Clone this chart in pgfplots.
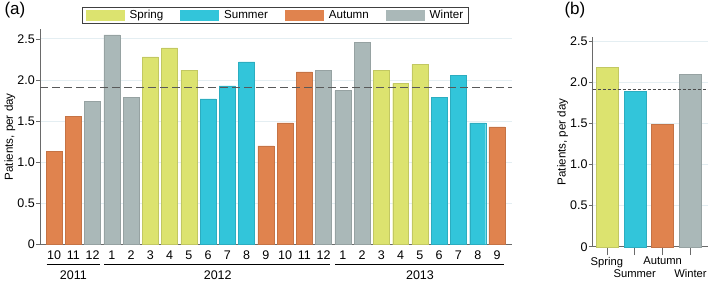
\documentclass[border=0pt]{standalone}
\usepackage{fontspec}
\setmainfont{Liberation Sans}
\usepackage{pgfplots}
\pgfplotsset{compat=1.18}

\definecolor{spring}{HTML}{DCE36F}
\definecolor{summer}{HTML}{32C5DA}
\definecolor{autumn}{HTML}{E0834E}
\definecolor{winter}{HTML}{AAB8B8}
\definecolor{gridc}{HTML}{E4EEF2}
\definecolor{axisc}{HTML}{6A6A6A}

\newcommand\labelfont{\fontsize{11.6}{13.8}\selectfont}
\newcommand\tickfont{\fontsize{12.5}{14}\selectfont}

\pgfplotsset{
  season/.style={ybar, bar shift=0pt, fill=#1, draw=#1!88!black, line width=0.4pt,
    legend image code/.code={\fill[#1] (0pt,-4.8pt) rectangle (38pt,4.8pt);}},
  panel/.style={
    scale only axis, anchor=south west, clip=false,
    axis lines=left, axis line style={-, axisc, line width=0.8pt},
    ymin=0,
    ytick={0,0.5,1,1.5,2,2.5},
    yticklabels={0,0.5,1.0,1.5,2.0,2.5},
    ymajorgrids, major grid style={gridc, line width=0.8pt},
    tick align=outside, major tick length=4pt,
    tick style={axisc, line width=0.6pt},
    font=\labelfont,
    ticklabel style={font=\tickfont},
    yticklabel style={inner xsep=1pt},
    ylabel={Patients, per day},
    ylabel style={anchor=center, font=\labelfont},
  },
}

\begin{document}
\begin{tikzpicture}
\useasboundingbox (0,0) rectangle (708pt,281pt);

% (a) monthly average, Oct 2011 - Sep 2013
\begin{axis}[panel,
  at={(40pt,36.5pt)}, width=472pt, height=215.5pt,
  xmin=-0.73, xmax=23.78, ymax=2.62,
  xtick={0,...,23},
  xticklabels={10,11,12,1,2,3,4,5,6,7,8,9,10,11,12,1,2,3,4,5,6,7,8,9},
  x tick style={draw=none},
  xticklabel style={yshift=1pt},
  ylabel style={at={(axis description cs:-0.0636,0.5)}},
  legend style={at={(0.499,1.065)}, anchor=center, legend columns=4,
    draw=black!75, line width=0.6pt, font=\labelfont,
    inner xsep=3pt, inner ysep=1pt,
    /tikz/every even column/.append style={column sep=15pt},
    /tikz/every odd column/.append style={column sep=3.5pt}},
]
\addplot[season=spring, bar width=0.83] coordinates
  {(5,2.28) (6,2.39) (7,2.12) (17,2.12) (18,1.96) (19,2.19)};
\addplot[season=summer, bar width=0.83] coordinates
  {(8,1.77) (9,1.93) (10,2.22) (20,1.79) (21,2.06) (22,1.48)};
\addplot[season=autumn, bar width=0.83] coordinates
  {(0,1.13) (1,1.56) (11,1.20) (12,1.48) (13,2.10) (23,1.43)};
\addplot[season=winter, bar width=0.83] coordinates
  {(2,1.74) (3,2.55) (4,1.79) (14,2.12) (15,1.87) (16,2.46)};
\legend{Spring,Summer,Autumn,Winter}
% overall mean
\addplot[forget plot, black!65, line width=1.4pt, dash pattern=on 8pt off 4pt]
  coordinates {(-0.73,1.91) (23.78,1.91)};
% year brackets
\draw[line width=1.3pt] ([yshift=-20pt]axis cs:-0.38,0) -- ([yshift=-20pt]axis cs:2.39,0);
\draw[line width=1.3pt] ([yshift=-20pt]axis cs:2.6,0) -- ([yshift=-20pt]axis cs:14.33,0);
\draw[line width=1.3pt] ([yshift=-20pt]axis cs:14.59,0) -- ([yshift=-20pt]axis cs:23.36,0);
\node[anchor=base, font=\tickfont] at ([yshift=-35.3pt]axis cs:1,0) {2011};
\node[anchor=base, font=\tickfont] at ([yshift=-35.3pt]axis cs:8.5,0) {2012};
\node[anchor=base, font=\tickfont] at ([yshift=-35.3pt]axis cs:19,0) {2013};
\end{axis}

% (b) seasonal average
\begin{axis}[panel,
  at={(592.7pt,34.3pt)}, width=115.3pt, height=209.7pt,
  xmin=-0.51, xmax=3.63, ymax=2.557,
  xtick=\empty,
  extra x ticks={0,1,2,3},
  extra x tick labels={Spring,{\vphantom{Sp}\\Summer},Autumn,{\vphantom{Sp}\\Winter}},
  extra x tick style={major tick length=8.5pt,
    xticklabel style={align=center, inner sep=1.5pt, font=\fontsize{11.2}{12.8}\selectfont}},
  ylabel style={at={(axis description cs:-0.26,0.5)}},
]
\addplot[season=spring, bar width=0.79] coordinates {(0,2.19)};
\addplot[season=summer, bar width=0.79] coordinates {(1,1.89)};
\addplot[season=autumn, bar width=0.79] coordinates {(2,1.49)};
\addplot[season=winter, bar width=0.79] coordinates {(3,2.10)};
\addplot[black!70, line width=0.8pt, dash pattern=on 3pt off 2pt]
  coordinates {(-0.51,1.92) (3.63,1.92)};
\end{axis}

\node[anchor=base west, font=\fontsize{17}{20}\selectfont] at (1pt,266.6pt) {(a)};
\node[anchor=base west, font=\fontsize{17}{20}\selectfont] at (561pt,266.6pt) {(b)};
\end{tikzpicture}
\end{document}
